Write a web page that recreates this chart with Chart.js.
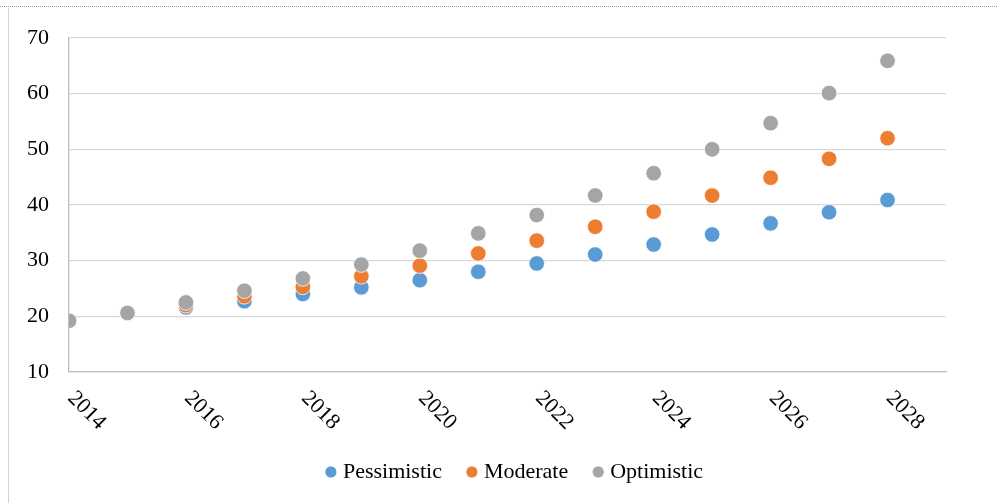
<!DOCTYPE html>
<html>
<head>
<meta charset="utf-8">
<title>Scenarios 2014-2028</title>
<script src="https://cdn.jsdelivr.net/npm/chart.js@4.4.1/dist/chart.umd.min.js"></script>
<style>
    html, body { margin: 0; padding: 0; background: #fff; }
    body { width: 997px; height: 503px; position: relative; overflow: hidden; }
    #topLine  { position: absolute; left: 0; top: 6px; width: 997px; height: 0; border-top: 1px dotted #9a9a9a; }
    #leftLine { position: absolute; left: 8px; top: 8px; bottom: 0; width: 0; border-left: 1px solid #d4d4d4; }
    #wrap     { position: absolute; left: 9px; top: 7px; width: 988px; height: 496px; }
</style>
</head>
<body>
<div id="topLine"></div>
<div id="leftLine"></div>
<div id="wrap"><canvas id="scenarioChart"></canvas></div>
<script>
"use strict";

var years       = [2014, 2015, 2016, 2017, 2018, 2019, 2020, 2021, 2022, 2023, 2024, 2025, 2026, 2027, 2028];
var pessimistic = [19.2, 20.6, 21.6, 22.7, 24.0, 25.2, 26.5, 28.0, 29.5, 31.1, 32.9, 34.7, 36.7, 38.7, 40.9];
var moderate    = [19.2, 20.6, 22.0, 23.6, 25.3, 27.2, 29.1, 31.3, 33.6, 36.1, 38.8, 41.7, 44.9, 48.3, 52.0];
var optimistic  = [19.2, 20.6, 22.5, 24.6, 26.8, 29.3, 31.8, 34.9, 38.2, 41.7, 45.7, 50.0, 54.7, 60.1, 65.9];
var xTicks      = [2014, 2016, 2018, 2020, 2022, 2024, 2026, 2028];
var yTicks      = [10, 20, 30, 40, 50, 60, 70];

var FONT = "'Liberation Serif', 'Times New Roman', serif";

function toPoints(values)
{
    var pts = [];
    for (var i = 0; i < years.length; i++)
    {
        pts.push({x: years[i], y: values[i]});
    }
    return pts;
}

// x labels run downward to the right, starting at the tick
var xLabelPlugin = {
    id: "xLabels",
    afterLayout: function (chart)
    {
        // legend sits a little right of centre in the original
        chart.legend.left  += 9;
        chart.legend.right += 9;
    },
    afterDraw: function (chart)
    {
        var ctx   = chart.ctx;
        var scale = chart.scales.x;
        var base  = chart.chartArea.bottom;

        ctx.save();
        ctx.font         = "22px " + FONT;
        ctx.fillStyle    = "#000";
        ctx.textAlign    = "left";
        ctx.textBaseline = "middle";
        xTicks.forEach(function (v)
        {
            ctx.save();
            ctx.translate(scale.getPixelForValue(v) + 2, base + 23);
            ctx.rotate(Math.PI / 4);
            ctx.fillText(String(v), 0, 0);
            ctx.restore();
        });
        ctx.restore();
    }
};

Chart.defaults.font.family = FONT;
Chart.defaults.font.size   = 22;
Chart.defaults.color       = "#000";

new Chart(document.getElementById("scenarioChart"), {
    type:    "scatter",
    data:    {
        datasets: [
            {label: "Pessimistic", data: toPoints(pessimistic), backgroundColor: "#5B9BD5", order: 3},
            {label: "Moderate",    data: toPoints(moderate),    backgroundColor: "#ED7D31", order: 2},
            {label: "Optimistic",  data: toPoints(optimistic),  backgroundColor: "#A5A5A5", order: 1}
        ]
    },
    options: {
        responsive:          true,
        maintainAspectRatio: false,
        animation:           false,
        layout:              {padding: {top: 24, right: 51, bottom: 10, left: 0}},
        elements:            {
            point: {radius: 7.8, borderWidth: 0.8, borderColor: "#fff", hoverRadius: 7.8}
        },
        plugins:             {
            tooltip: {enabled: false},
            legend:  {
                position: "bottom",
                fullSize: false,
                labels:   {
                    usePointStyle: true,
                    pointStyle:    "circle",
                    boxWidth:      2,
                    boxHeight:     8.5,
                    padding:       29,
                    font:          {size: 22},
                    sort:          function (a, b) { return a.datasetIndex - b.datasetIndex; }
                }
            }
        },
        scales:              {
            x: {
                type:     "linear",
                min:      2014,
                max:      2029,
                grid:     {display: false},
                border:   {display: true, color: "#bfbfbf", width: 1.2},
                ticks:    {display: false},
                afterFit: function (s) { s.height = 60; }
            },
            y: {
                min:      10,
                max:      70,
                grid:     {color: "#d9d9d9", lineWidth: 1.3, drawTicks: false},
                border:   {display: true, color: "#bfbfbf", width: 1.3},
                ticks:    {
                    padding:  20,
                    stepSize: 10,
                    font:     {size: 22, lineHeight: 1},
                    callback: function (v) { return yTicks.indexOf(v) >= 0 ? String(v) : ""; }
                },
                afterFit: function (s) { s.width = 60; }
            }
        }
    },
    plugins: [xLabelPlugin]
});
</script>
</body>
</html>
